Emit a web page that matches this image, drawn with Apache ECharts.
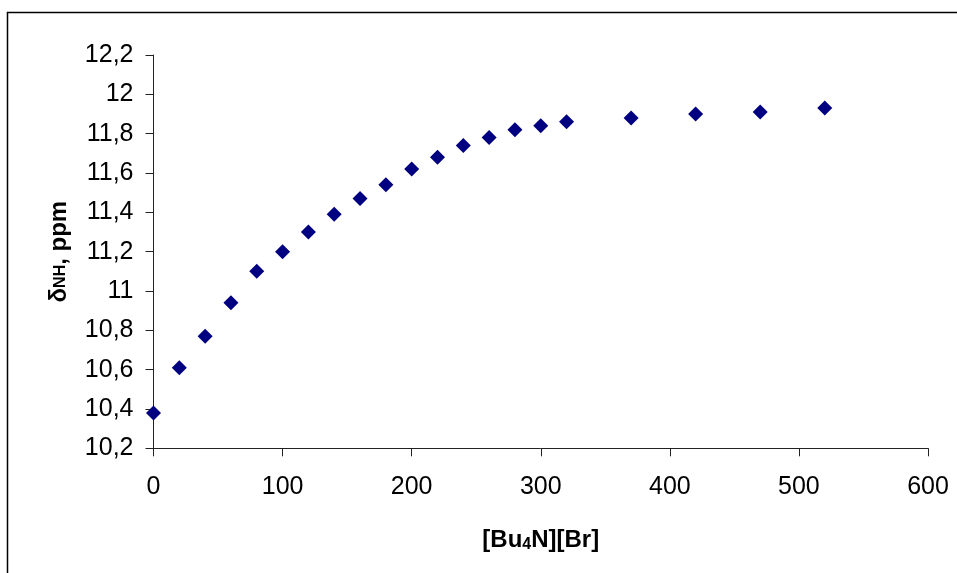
<!DOCTYPE html>
<html>
<head>
<meta charset="utf-8">
<script src="https://cdn.jsdelivr.net/npm/echarts@6/dist/echarts.min.js"></script>
<style>
  html, body { margin: 0; padding: 0; background: #fff; }
  #chart { width: 957px; height: 573px; }
</style>
</head>
<body>
<div id="chart"></div>
<script>
// Titration: NH chemical shift vs. added [Bu4N][Br]
const concentrations = [0, 20, 40, 60, 80, 100, 120, 140, 160, 180, 200, 220, 240, 260, 280, 300, 320, 370, 420, 470, 520];
const shiftsNH = [10.38, 10.61, 10.77, 10.94, 11.10, 11.20, 11.30, 11.39, 11.47, 11.54, 11.62, 11.68, 11.74, 11.78, 11.82, 11.84, 11.86, 11.88, 11.90, 11.91, 11.93];

const xTicks = [0, 100, 200, 300, 400, 500, 600];
const yTicks = [10.2, 10.4, 10.6, 10.8, 11, 11.2, 11.4, 11.6, 11.8, 12, 12.2];

const FONT = '"Liberation Sans", Arial, sans-serif';

const chart = echarts.init(document.getElementById('chart'), null, { renderer: 'canvas' });

function decimalComma(v) {
  return String(parseFloat(Number(v).toFixed(1))).replace('.', ',');
}

chart.setOption({
  animation: false,
  backgroundColor: '#ffffff',
  grid: { left: 153.5, right: 29, top: 55, bottom: 124.7, containLabel: false },
  graphic: [{
    type: 'rect',
    shape: { x: 7.5, y: 12.5, width: 1000, height: 1000 },
    style: { fill: 'none', stroke: '#000', lineWidth: 1.5 },
    silent: true
  }],
  xAxis: {
    type: 'value',
    min: xTicks[0],
    max: xTicks[xTicks.length - 1],
    interval: xTicks[1] - xTicks[0],
    splitLine: { show: false },
    axisLine: { onZero: false, lineStyle: { color: '#222', width: 1 } },
    axisTick: { show: true, length: 8, inside: false, lineStyle: { color: '#222' } },
    axisLabel: { color: '#000', fontFamily: FONT, fontSize: 25, margin: 26 },
    name: '{a|[Bu}{s|4}{a|N][Br]}',
    nameLocation: 'middle',
    nameGap: 76,
    nameTextStyle: {
      rich: {
        a: { fontFamily: FONT, fontSize: 24, fontWeight: 'bold', color: '#000', lineHeight: 28, verticalAlign: 'bottom' },
        s: { fontFamily: FONT, fontSize: 16, fontWeight: 'bold', color: '#000', lineHeight: 6, verticalAlign: 'bottom' }
      }
    }
  },
  yAxis: {
    type: 'value',
    min: yTicks[0],
    max: yTicks[yTicks.length - 1],
    interval: 0.2,
    splitLine: { show: false },
    axisLine: { onZero: false, lineStyle: { color: '#222', width: 1 } },
    axisTick: { show: true, length: 8, inside: false, lineStyle: { color: '#222' } },
    axisLabel: { color: '#000', fontFamily: FONT, fontSize: 25, margin: 20, formatter: decimalComma },
    name: '{a|δ}{n|NH}{a|, ppm}',
    nameLocation: 'middle',
    nameRotate: 90,
    nameGap: 82,
    nameTextStyle: {
      rich: {
        a: { fontFamily: FONT, fontSize: 24, fontWeight: 'bold', color: '#000', lineHeight: 28, verticalAlign: 'bottom' },
        n: { fontFamily: FONT, fontSize: 16, fontWeight: 'bold', color: '#000', lineHeight: 28, verticalAlign: 'bottom', padding: [0, 0, 3, 0] }
      }
    }
  },
  series: [{
    type: 'scatter',
    data: concentrations.map((c, i) => [c, shiftsNH[i]]),
    symbol: 'diamond',
    symbolSize: [15, 15],
    itemStyle: { color: '#000080', opacity: 1 }
  }]
});
</script>
</body>
</html>
